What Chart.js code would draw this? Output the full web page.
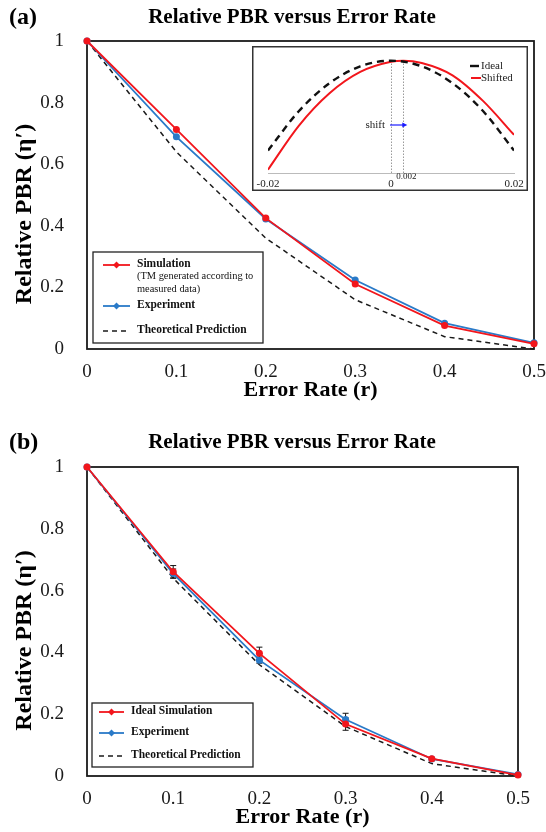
<!DOCTYPE html>
<html>
<head>
<meta charset="utf-8">
<script src="https://cdn.jsdelivr.net/npm/chart.js@4.4.1/dist/chart.umd.min.js"></script>
<style>
  body { margin: 0; background: #fff; }
  canvas { display: block; }
  .panel { position: relative; width: 546px; height: 416px; }
  #inset { position: absolute; left: 252px; top: 46px; }
</style>
</head>
<body>
<div class="panel">
  <canvas id="chartA" width="546" height="416"></canvas>
  <canvas id="inset" width="276" height="145"></canvas>
</div>
<div class="panel">
  <canvas id="chartB" width="546" height="416"></canvas>
</div>
<script>
// #############################################################################
// Data

// shared x values and tick text
const errorRate = [0, 0.1, 0.2, 0.3, 0.4, 0.5];
const xTickLabels = ["0", "0.1", "0.2", "0.3", "0.4", "0.5"];
const yTickLabels = ["0", "0.2", "0.4", "0.6", "0.8", "1"];
const theoryPrediction = [1, 0.64, 0.36, 0.16, 0.04, 0];

// (a) simulation with TM from measured data vs experiment
const simulationA = [1, 0.713, 0.425, 0.211, 0.076, 0.017];
const experimentA = [1, 0.689, 0.422, 0.224, 0.084, 0.02];

// (b) ideal simulation vs experiment, with error bars
const simulationB = [1, 0.661, 0.397, 0.168, 0.056, 0.003];
const experimentB = [1, 0.655, 0.375, 0.183, 0.055, 0.005];
const simulationBErr = [0, 0.02, 0.02, 0.02, 0, 0];
const experimentBErr = [0, 0.015, 0.01, 0.02, 0, 0];

// inset: ideal vs shifted response
const idealOffset = [-0.02, -0.015, -0.01, -0.005, 0, 0.005, 0.01, 0.015, 0.02];
const idealCurve = [0.2, 0.55, 0.8, 0.95, 1, 0.95, 0.8, 0.55, 0.2];
const shiftedOffset = [-0.02, -0.015, -0.01, -0.005, 0, 0.002, 0.005, 0.01, 0.015, 0.02];
const shiftedCurve = [0.03, 0.42, 0.71, 0.9, 0.99, 1, 0.98, 0.87, 0.64, 0.34];
const insetTicks = [-0.02, 0, 0.02];
const insetTickLabels = ["-0.02", "0", "0.02"];
const shiftAmount = 0.002;

// #############################################################################
// Styles

const FONT = '"Liberation Serif", "Times New Roman", Times, serif';
const RED = "#f2161c";
const BLUE = "#2a7ac8";
const INK = "#1a1a1a";

const toPoints = (xs, ys) => xs.map((x, i) => ({ x: x, y: ys[i] }));

const seriesLine = function (label, values, color) {
    return {
        label: label,
        data: toPoints(errorRate, values),
        borderColor: color,
        backgroundColor: color,
        borderWidth: 1.8,
        pointRadius: 3.5,
        pointHoverRadius: 3.5,
        pointBorderWidth: 0,
        pointBackgroundColor: color,
        tension: 0,
        clip: false,
    };
};

const theoryLine = function () {
    return {
        label: "Theoretical Prediction",
        data: toPoints(errorRate, theoryPrediction),
        borderColor: INK,
        borderWidth: 1.5,
        borderDash: [5, 4],
        pointRadius: 0,
        tension: 0,
        clip: false,
    };
};

const diamond = function (ctx, x, y, r, color) {
    ctx.beginPath();
    ctx.moveTo(x, y - r);
    ctx.lineTo(x + r, y);
    ctx.lineTo(x, y + r);
    ctx.lineTo(x - r, y);
    ctx.closePath();
    ctx.fillStyle = color;
    ctx.fill();
};

// #############################################################################
// Main panels

const makePanel = function (canvasId, spec) {
    const panelPlugin = {
        id: "panelDecor",
        beforeDatasetsDraw(chart) {
            const ctx = chart.ctx;
            const a = chart.chartArea;
            ctx.save();
            // plot frame
            ctx.strokeStyle = INK;
            ctx.lineWidth = 1.8;
            ctx.strokeRect(a.left, a.top, a.right - a.left, a.bottom - a.top);

            // error bars, under the markers
            const xs = chart.scales.x;
            const ys = chart.scales.y;
            ctx.strokeStyle = "#111";
            ctx.lineWidth = 1;
            (spec.errorBars || []).forEach((eb) => {
                eb.values.forEach((v, i) => {
                    const e = eb.errors[i];
                    if (!e) return;
                    const px = xs.getPixelForValue(errorRate[i]);
                    const top = ys.getPixelForValue(v + e);
                    const bot = ys.getPixelForValue(v - e);
                    ctx.beginPath();
                    ctx.moveTo(px, top);
                    ctx.lineTo(px, bot);
                    ctx.moveTo(px - 3, top);
                    ctx.lineTo(px + 3, top);
                    ctx.moveTo(px - 3, bot);
                    ctx.lineTo(px + 3, bot);
                    ctx.stroke();
                });
            });
            ctx.restore();
        },
        afterDraw(chart) {
            const ctx = chart.ctx;
            const a = chart.chartArea;
            ctx.save();
            ctx.fillStyle = "#000";
            ctx.textBaseline = "middle";

            // panel letter and title
            ctx.textAlign = "left";
            ctx.font = `bold 24px ${FONT}`;
            ctx.fillText(spec.letter, 9, spec.titleY);
            ctx.textAlign = "center";
            ctx.font = `bold 21px ${FONT}`;
            ctx.fillText("Relative PBR versus Error Rate", 292, spec.titleY);

            // axis titles
            ctx.font = `bold 22px ${FONT}`;
            ctx.fillText("Error Rate (r)", (a.left + a.right) / 2, a.bottom + 41);
            ctx.save();
            ctx.translate(25, (a.top + a.bottom) / 2 + 19);
            ctx.rotate(-Math.PI / 2);
            ctx.font = `bold 24px ${FONT}`;
            ctx.fillText("Relative PBR (\u03b7\u2032)", 0, 0);
            ctx.restore();

            // legend box
            const lg = spec.legend;
            ctx.fillStyle = "#fff";
            ctx.fillRect(lg.x, lg.y, lg.w, lg.h);
            ctx.strokeStyle = "#222";
            ctx.lineWidth = 1.3;
            ctx.strokeRect(lg.x, lg.y, lg.w, lg.h);
            ctx.textAlign = "left";
            lg.items.forEach((it) => {
                ctx.beginPath();
                ctx.strokeStyle = it.color;
                ctx.lineWidth = it.dash ? 1.5 : 1.8;
                ctx.setLineDash(it.dash || []);
                ctx.moveTo(lg.lineX0, it.y);
                ctx.lineTo(lg.lineX1, it.y);
                ctx.stroke();
                ctx.setLineDash([]);
                if (!it.dash) diamond(ctx, (lg.lineX0 + lg.lineX1) / 2, it.y, 3.5, it.color);
                ctx.fillStyle = "#111";
                it.lines.forEach((ln, k) => {
                    ctx.font = ln.bold ? `bold 11.5px ${FONT}` : `10.4px ${FONT}`;
                    ctx.fillText(ln.text, lg.textX, it.y - 1 + k * 12.5);
                });
            });
            ctx.restore();
        },
    };

    return new Chart(document.getElementById(canvasId), {
        type: "line",
        data: { datasets: spec.datasets },
        options: {
            responsive: false,
            animation: false,
            events: [],
            layout: { padding: spec.padding },
            plugins: { legend: { display: false }, tooltip: { enabled: false } },
            scales: {
                x: {
                    type: "linear",
                    min: 0,
                    max: 0.5,
                    grid: { display: false },
                    border: { display: false },
                    ticks: {
                        stepSize: 0.1,
                        padding: 4,
                        color: INK,
                        autoSkip: false,
                        maxRotation: 0,
                        font: { family: FONT, size: 19 },
                        callback: (v, i) => xTickLabels[i],
                    },
                    // the last label may run to the page edge
                    afterFit: (s) => {
                        s.height = 56;
                        s.paddingLeft = 0;
                        s.paddingRight = 0;
                    },
                },
                y: {
                    min: 0,
                    max: 1,
                    grid: { display: false },
                    border: { display: false },
                    ticks: {
                        stepSize: 0.2,
                        padding: 15,
                        color: INK,
                        font: { family: FONT, size: 19 },
                        callback: (v, i) => yTickLabels[i],
                    },
                    afterFit: (s) => { s.width = 87; },
                },
            },
        },
        plugins: [panelPlugin],
    });
};

// (a)
makePanel("chartA", {
    letter: "(a)",
    titleY: 18,
    padding: { top: 41, right: 12, bottom: 11, left: 0 },
    datasets: [
        seriesLine("Simulation", simulationA, RED),
        seriesLine("Experiment", experimentA, BLUE),
        theoryLine(),
    ],
    legend: {
        x: 93, y: 252, w: 170, h: 91, lineX0: 103, lineX1: 130, textX: 137,
        items: [
            { y: 265, color: RED, lines: [
                { text: "Simulation", bold: true },
                { text: "(TM generated according to" },
                { text: "measured data)" },
            ] },
            { y: 306, color: BLUE, lines: [{ text: "Experiment", bold: true }] },
            { y: 331, color: INK, dash: [5, 4], lines: [{ text: "Theoretical Prediction", bold: true }] },
        ],
    },
});

// (b)
makePanel("chartB", {
    letter: "(b)",
    titleY: 27,
    padding: { top: 51, right: 28, bottom: 0, left: 0 },
    datasets: [
        seriesLine("Ideal Simulation", simulationB, RED),
        seriesLine("Experiment", experimentB, BLUE),
        theoryLine(),
    ],
    errorBars: [
        { values: experimentB, errors: experimentBErr },
        { values: simulationB, errors: simulationBErr },
    ],
    legend: {
        x: 92, y: 287, w: 161, h: 64, lineX0: 99, lineX1: 124, textX: 131,
        items: [
            { y: 296, color: RED, lines: [{ text: "Ideal Simulation", bold: true }] },
            { y: 317, color: BLUE, lines: [{ text: "Experiment", bold: true }] },
            { y: 340, color: INK, dash: [5, 4], lines: [{ text: "Theoretical Prediction", bold: true }] },
        ],
    },
});

// #############################################################################
// Inset: peak shift

const insetDecor = {
    id: "insetDecor",
    beforeDraw(chart) {
        const ctx = chart.ctx;
        ctx.save();
        ctx.fillStyle = "#fff";
        ctx.fillRect(0, 0, chart.width, chart.height);
        ctx.restore();
    },
    beforeDatasetsDraw(chart) {
        const ctx = chart.ctx;
        const xs = chart.scales.x;
        const ys = chart.scales.y;
        ctx.save();
        ctx.strokeStyle = "#9a9a9a";
        ctx.lineWidth = 1;
        ctx.setLineDash([1.5, 1.5]);
        [0, shiftAmount].forEach((v) => {
            const px = Math.round(xs.getPixelForValue(v)) + 0.5;
            ctx.beginPath();
            ctx.moveTo(px, ys.getPixelForValue(0));
            ctx.lineTo(px, ys.getPixelForValue(1));
            ctx.stroke();
        });
        ctx.restore();
    },
    afterDraw(chart) {
        const ctx = chart.ctx;
        const xs = chart.scales.x;
        const x0 = xs.getPixelForValue(0);
        const x1 = xs.getPixelForValue(shiftAmount);
        ctx.save();

        // frame
        ctx.strokeStyle = "#333";
        ctx.lineWidth = 1.5;
        ctx.strokeRect(0.75, 0.75, chart.width - 1.5, chart.height - 1.5);

        // small label for the shifted peak position
        ctx.fillStyle = "#222";
        ctx.textAlign = "center";
        ctx.textBaseline = "middle";
        ctx.font = `9px ${FONT}`;
        ctx.fillText("0.002", x1 + 3, 131);

        // shift arrow
        ctx.font = `11px ${FONT}`;
        ctx.textAlign = "right";
        ctx.fillText("shift", x0 - 6, 79);
        ctx.strokeStyle = "#1a1aff";
        ctx.fillStyle = "#1a1aff";
        ctx.lineWidth = 1.2;
        ctx.beginPath();
        ctx.moveTo(x0 - 1, 79);
        ctx.lineTo(x1 + 1, 79);
        ctx.stroke();
        ctx.beginPath();
        ctx.moveTo(x1 + 4, 79);
        ctx.lineTo(x1 - 1, 76.5);
        ctx.lineTo(x1 - 1, 81.5);
        ctx.closePath();
        ctx.fill();

        // legend
        ctx.textAlign = "left";
        ctx.fillStyle = "#222";
        ctx.lineWidth = 2.4;
        ctx.strokeStyle = "#111";
        ctx.beginPath();
        ctx.moveTo(218, 20);
        ctx.lineTo(227, 20);
        ctx.stroke();
        ctx.fillText("Ideal", 229, 20);
        ctx.lineWidth = 2;
        ctx.strokeStyle = RED;
        ctx.beginPath();
        ctx.moveTo(219, 32);
        ctx.lineTo(229, 32);
        ctx.stroke();
        ctx.fillText("Shifted", 229, 32);
        ctx.restore();
    },
};

new Chart(document.getElementById("inset"), {
    type: "line",
    data: {
        datasets: [
            {
                label: "Ideal",
                data: toPoints(idealOffset, idealCurve),
                borderColor: "#111",
                borderWidth: 2.4,
                borderDash: [7, 5],
                pointRadius: 0,
                cubicInterpolationMode: "monotone",
            },
            {
                label: "Shifted",
                data: toPoints(shiftedOffset, shiftedCurve),
                borderColor: RED,
                borderWidth: 2,
                pointRadius: 0,
                cubicInterpolationMode: "monotone",
            },
        ],
    },
    options: {
        responsive: false,
        animation: false,
        events: [],
        layout: { padding: { left: 16, right: 14, top: 3.5, bottom: 0 } },
        plugins: { legend: { display: false }, tooltip: { enabled: false } },
        scales: {
            x: {
                type: "linear",
                min: -0.02,
                max: 0.02,
                grid: { display: false },
                border: { color: "#bbb", width: 1 },
                afterBuildTicks: (s) => { s.ticks = insetTicks.map((v) => ({ value: v })); },
                ticks: {
                    autoSkip: false,
                    maxRotation: 0,
                    padding: -3,
                    color: "#222",
                    font: { family: FONT, size: 11 },
                    callback: (v, i) => insetTickLabels[i],
                },
                afterFit: (s) => { s.height = 18; },
            },
            y: { display: false, min: 0, max: 1.1 },
        },
    },
    plugins: [insetDecor],
});
</script>
</body>
</html>
